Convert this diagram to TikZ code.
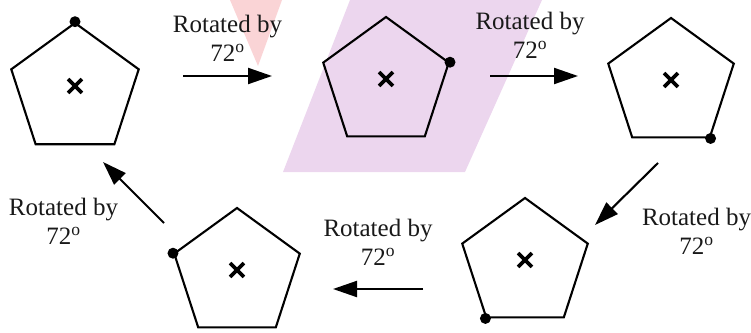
\documentclass[tikz,border=0pt]{standalone}
\usepackage{fontspec}
\setmainfont{Liberation Serif}
\usetikzlibrary{positioning,arrows.meta,shapes.geometric,shapes.misc}
\definecolor{wmpink}{RGB}{250,212,214}
\definecolor{wmlilac}{RGB}{236,214,238}

\begin{document}
\begin{tikzpicture}[x=1pt, y=-1pt,
        every node/.style={align=center, font=\fontsize{25}{29}\selectfont},
        penta/.style={draw, regular polygon, regular polygon sides=5, minimum size=132pt, inner sep=0pt, line width=2.1pt},
        xmark/.style={cross out, draw, minimum size=10pt, inner sep=0pt, line width=3.8pt},
        dot/.style={circle, fill, inner sep=0pt, minimum size=11pt},
        arr/.style={line width=2.1pt, -{Triangle[length=24pt, width=16pt]}},
        lbl/.style={text=black!90, inner sep=1pt}]
        \useasboundingbox (0,0) rectangle (751,332);
        \fill[wmlilac] (350,0) -- (542,0) -- (465,172) -- (283,172) -- cycle;
        \fill[wmpink] (230,0) -- (282,0) -- (258,66) -- cycle;

        \node[penta, minimum size=134pt] (p1) at (75,90) {};
        \node[penta] (p2) at (386,83) {};
        \node[penta] (p3) at (671,84) {};
        \node[penta] (p4) at (525,264) {};
        \node[penta] (p5) at (237,274) {};

        \node[xmark] (x1) at ([yshift=4pt]p1.center) {};
        \node[xmark] (x2) at ([yshift=4pt]p2.center) {};
        \node[xmark] (x3) at ([yshift=4pt]p3.center) {};
        \node[xmark] (x4) at ([yshift=4pt]p4.center) {};
        \node[xmark] (x5) at ([yshift=4pt]p5.center) {};

        \node[dot] (d1) at (p1.corner 1) {};
        \node[dot] (d2) at (p2.corner 5) {};
        \node[dot] (d3) at (p3.corner 4) {};
        \node[dot] (d4) at (p4.corner 3) {};
        \node[dot] (d5) at (p5.corner 2) {};

        \coordinate (a1s) at (183,76);  \coordinate (a1e) at (272,76);
        \coordinate (a2s) at (490,76);  \coordinate (a2e) at (578,76);
        \coordinate (a3s) at (658,163); \coordinate (a3e) at (595,225);
        \coordinate (a4s) at (423,289); \coordinate (a4e) at (333,289);
        \coordinate (a5s) at (164,223); \coordinate (a5e) at (103,162);

        \draw[arr] (a1s) -- (a1e) node[lbl, midway, above=12pt] {Rotated by\\72\textsuperscript{o}};
        \draw[arr] (a2s) -- (a2e) node[lbl, midway, above=15pt, xshift=-4pt] {Rotated by\\72\textsuperscript{o}};
        \draw[arr] (a3s) -- (a3e) node[lbl, midway, xshift=70pt, yshift=-37pt] {Rotated by\\72\textsuperscript{o}};
        \draw[arr] (a4s) -- (a4e) node[lbl, midway, above=21pt] {Rotated by\\72\textsuperscript{o}};
        \draw[arr] (a5s) -- (a5e) node[lbl, midway, xshift=-70pt, yshift=-29pt] {Rotated by\\72\textsuperscript{o}};
    \end{tikzpicture}
\end{document}
